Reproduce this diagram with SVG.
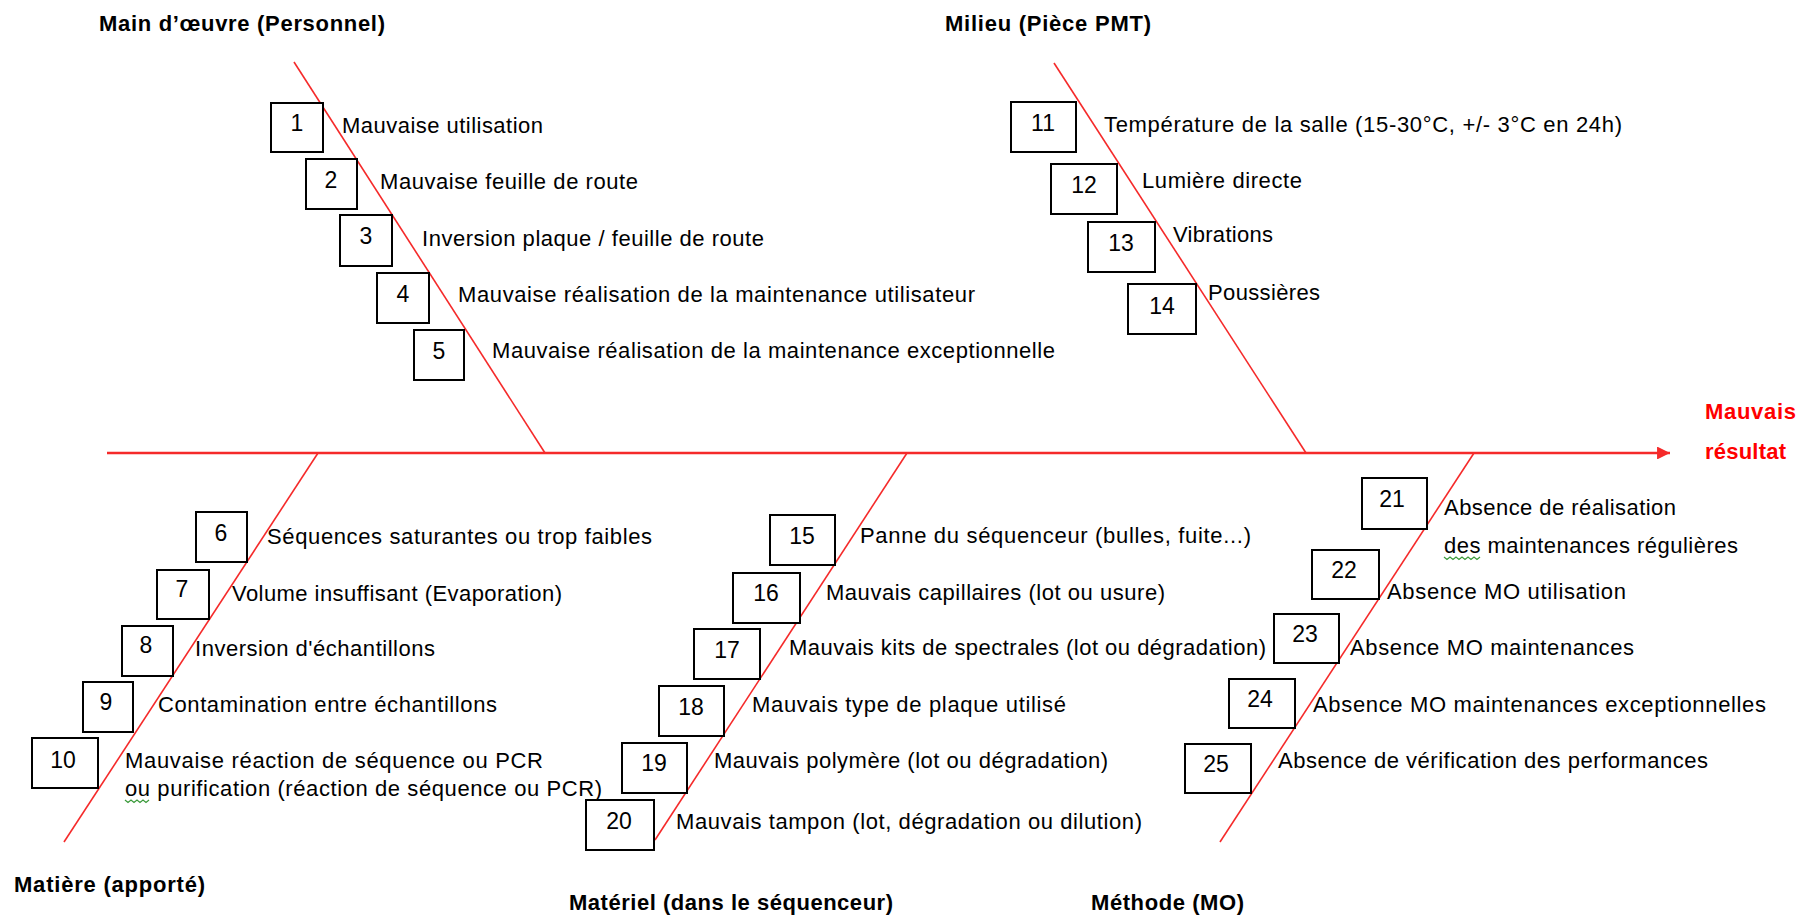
<svg xmlns="http://www.w3.org/2000/svg" width="1811" height="916" viewBox="0 0 1811 916">
<style>
.bone{stroke:#f52a2a;stroke-width:1.6;fill:none}
.axis{stroke:#f52a2a;stroke-width:2.4;fill:none}
.box{fill:#fff;stroke:#000;stroke-width:2}
.num{font-family:"Liberation Sans",Arial,sans-serif;font-size:23px;fill:#000;text-anchor:middle}
.lbl{font-family:"Liberation Sans",Arial,sans-serif;font-size:22px;fill:#000}
.ttl{font-family:"Liberation Sans",Arial,sans-serif;font-size:22px;font-weight:bold;fill:#000}
.res{font-family:"Liberation Sans",Arial,sans-serif;font-size:22px;font-weight:bold;fill:#f00}
.sq{stroke:#3a9a3a;stroke-width:1.2;fill:none}
</style>
<defs>
<marker id="arr" viewBox="0 0 10 10" refX="10" refY="5" markerWidth="6.2" markerHeight="5.4" markerUnits="strokeWidth" orient="auto">
<path d="M0,0 L10,5 L0,10 z" fill="#f52a2a"/>
</marker>
</defs>
<rect width="1811" height="916" fill="#fff"/>
<g id="connectors">
<line class="axis" x1="107" y1="453" x2="1670" y2="453" marker-end="url(#arr)"/>
<line class="bone" x1="294" y1="62" x2="545" y2="453"/>
<line class="bone" x1="1054" y1="63" x2="1306" y2="453"/>
<line class="bone" x1="318" y1="453" x2="64" y2="842"/>
<line class="bone" x1="907" y1="453" x2="655" y2="840"/>
<line class="bone" x1="1474" y1="453" x2="1220" y2="842"/>
</g>
<g id="titles">
<text class="ttl" x="99" y="31" textLength="286">Main d’œuvre (Personnel)</text>
<text class="ttl" x="945" y="31" textLength="206">Milieu (Pièce PMT)</text>
<text class="ttl" x="14" y="892" textLength="191">Matière (apporté)</text>
<text class="ttl" x="569" y="910" textLength="324">Matériel (dans le séquenceur)</text>
<text class="ttl" x="1091" y="910" textLength="153">Méthode (MO)</text>
</g>
<g id="effect">
<text class="res" x="1705" y="419" textLength="91">Mauvais</text>
<text class="res" x="1705" y="459" textLength="81">résultat</text>
</g>
<g id="n1"><rect class="box" x="271" y="103" width="52" height="49"/><text class="num" x="297" y="131">1</text><text class="lbl" x="342" y="133" textLength="201">Mauvaise utilisation</text></g>
<g id="n2"><rect class="box" x="306" y="159" width="51" height="50"/><text class="num" x="331" y="188">2</text><text class="lbl" x="380" y="189" textLength="258">Mauvaise feuille de route</text></g>
<g id="n3"><rect class="box" x="340" y="215" width="52" height="51"/><text class="num" x="366" y="244">3</text><text class="lbl" x="422" y="246" textLength="342">Inversion plaque / feuille de route</text></g>
<g id="n4"><rect class="box" x="377" y="273" width="52" height="50"/><text class="num" x="403" y="302">4</text><text class="lbl" x="458" y="302" textLength="517">Mauvaise réalisation de la maintenance utilisateur</text></g>
<g id="n5"><rect class="box" x="414" y="330" width="50" height="50"/><text class="num" x="439" y="359">5</text><text class="lbl" x="492" y="358" textLength="563">Mauvaise réalisation de la maintenance exceptionnelle</text></g>
<g id="n11"><rect class="box" x="1011" y="102" width="65" height="50"/><text class="num" x="1043" y="131">11</text><text class="lbl" x="1104" y="132" textLength="518">Température de la salle (15-30°C, +/- 3°C en 24h)</text></g>
<g id="n12"><rect class="box" x="1051" y="164" width="66" height="50"/><text class="num" x="1084" y="193">12</text><text class="lbl" x="1142" y="188" textLength="160">Lumière directe</text></g>
<g id="n13"><rect class="box" x="1088" y="222" width="67" height="50"/><text class="num" x="1121" y="251">13</text><text class="lbl" x="1173" y="242" textLength="100">Vibrations</text></g>
<g id="n14"><rect class="box" x="1128" y="284" width="68" height="50"/><text class="num" x="1162" y="314">14</text><text class="lbl" x="1208" y="300" textLength="112">Poussières</text></g>
<g id="n6"><rect class="box" x="196" y="512" width="51" height="50"/><text class="num" x="221" y="541">6</text><text class="lbl" x="267" y="544" textLength="385">Séquences saturantes ou trop faibles</text></g>
<g id="n7"><rect class="box" x="157" y="570" width="52" height="49"/><text class="num" x="182" y="597">7</text><text class="lbl" x="232" y="601" textLength="330">Volume insuffisant (Evaporation)</text></g>
<g id="n8"><rect class="box" x="122" y="626" width="51" height="50"/><text class="num" x="146" y="653">8</text><text class="lbl" x="195" y="656" textLength="240">Inversion d'échantillons</text></g>
<g id="n9"><rect class="box" x="83" y="682" width="50" height="50"/><text class="num" x="106" y="710">9</text><text class="lbl" x="158" y="712" textLength="339">Contamination entre échantillons</text></g>
<g id="n10"><rect class="box" x="32" y="738" width="66" height="50"/><text class="num" x="63" y="768">10</text><text class="lbl" x="125" y="768" textLength="418">Mauvaise réaction de séquence ou PCR</text><text class="lbl" x="125" y="796" textLength="477">ou purification (réaction de séquence ou PCR)</text><path class="sq" d="M125,800 l3,2.5 l3,-2.5 l3,2.5 l3,-2.5 l3,2.5 l3,-2.5 l3,2.5 l3,-2.5"/></g>
<g id="n15"><rect class="box" x="770" y="515" width="65" height="50"/><text class="num" x="802" y="544">15</text><text class="lbl" x="860" y="543" textLength="391">Panne du séquenceur (bulles, fuite...)</text></g>
<g id="n16"><rect class="box" x="733" y="573" width="67" height="50"/><text class="num" x="766" y="601">16</text><text class="lbl" x="826" y="600" textLength="339">Mauvais capillaires (lot ou usure)</text></g>
<g id="n17"><rect class="box" x="694" y="629" width="66" height="50"/><text class="num" x="727" y="658">17</text><text class="lbl" x="789" y="655" textLength="477">Mauvais kits de spectrales (lot ou dégradation)</text></g>
<g id="n18"><rect class="box" x="659" y="686" width="65" height="50"/><text class="num" x="691" y="715">18</text><text class="lbl" x="752" y="712" textLength="314">Mauvais type de plaque utilisé</text></g>
<g id="n19"><rect class="box" x="622" y="743" width="65" height="50"/><text class="num" x="654" y="771">19</text><text class="lbl" x="714" y="768" textLength="394">Mauvais polymère (lot ou dégradation)</text></g>
<g id="n20"><rect class="box" x="586" y="800" width="68" height="50"/><text class="num" x="619" y="829">20</text><text class="lbl" x="676" y="829" textLength="466">Mauvais tampon (lot, dégradation ou dilution)</text></g>
<g id="n21"><rect class="box" x="1362" y="478" width="65" height="51"/><text class="num" x="1392" y="507">21</text><text class="lbl" x="1444" y="515" textLength="232">Absence de réalisation</text><text class="lbl" x="1444" y="553" textLength="294">des maintenances régulières</text><path class="sq" d="M1444,557 l3,2.5 l3,-2.5 l3,2.5 l3,-2.5 l3,2.5 l3,-2.5 l3,2.5 l3,-2.5 l3,2.5 l3,-2.5 l3,2.5 l3,-2.5"/></g>
<g id="n22"><rect class="box" x="1312" y="550" width="67" height="49"/><text class="num" x="1344" y="578">22</text><text class="lbl" x="1387" y="599" textLength="239">Absence MO utilisation</text></g>
<g id="n23"><rect class="box" x="1274" y="614" width="65" height="49"/><text class="num" x="1305" y="642">23</text><text class="lbl" x="1350" y="655" textLength="284">Absence MO maintenances</text></g>
<g id="n24"><rect class="box" x="1229" y="679" width="66" height="49"/><text class="num" x="1260" y="707">24</text><text class="lbl" x="1313" y="712" textLength="453">Absence MO maintenances exceptionnelles</text></g>
<g id="n25"><rect class="box" x="1185" y="744" width="66" height="49"/><text class="num" x="1216" y="772">25</text><text class="lbl" x="1278" y="768" textLength="430">Absence de vérification des performances</text></g>
</svg>
